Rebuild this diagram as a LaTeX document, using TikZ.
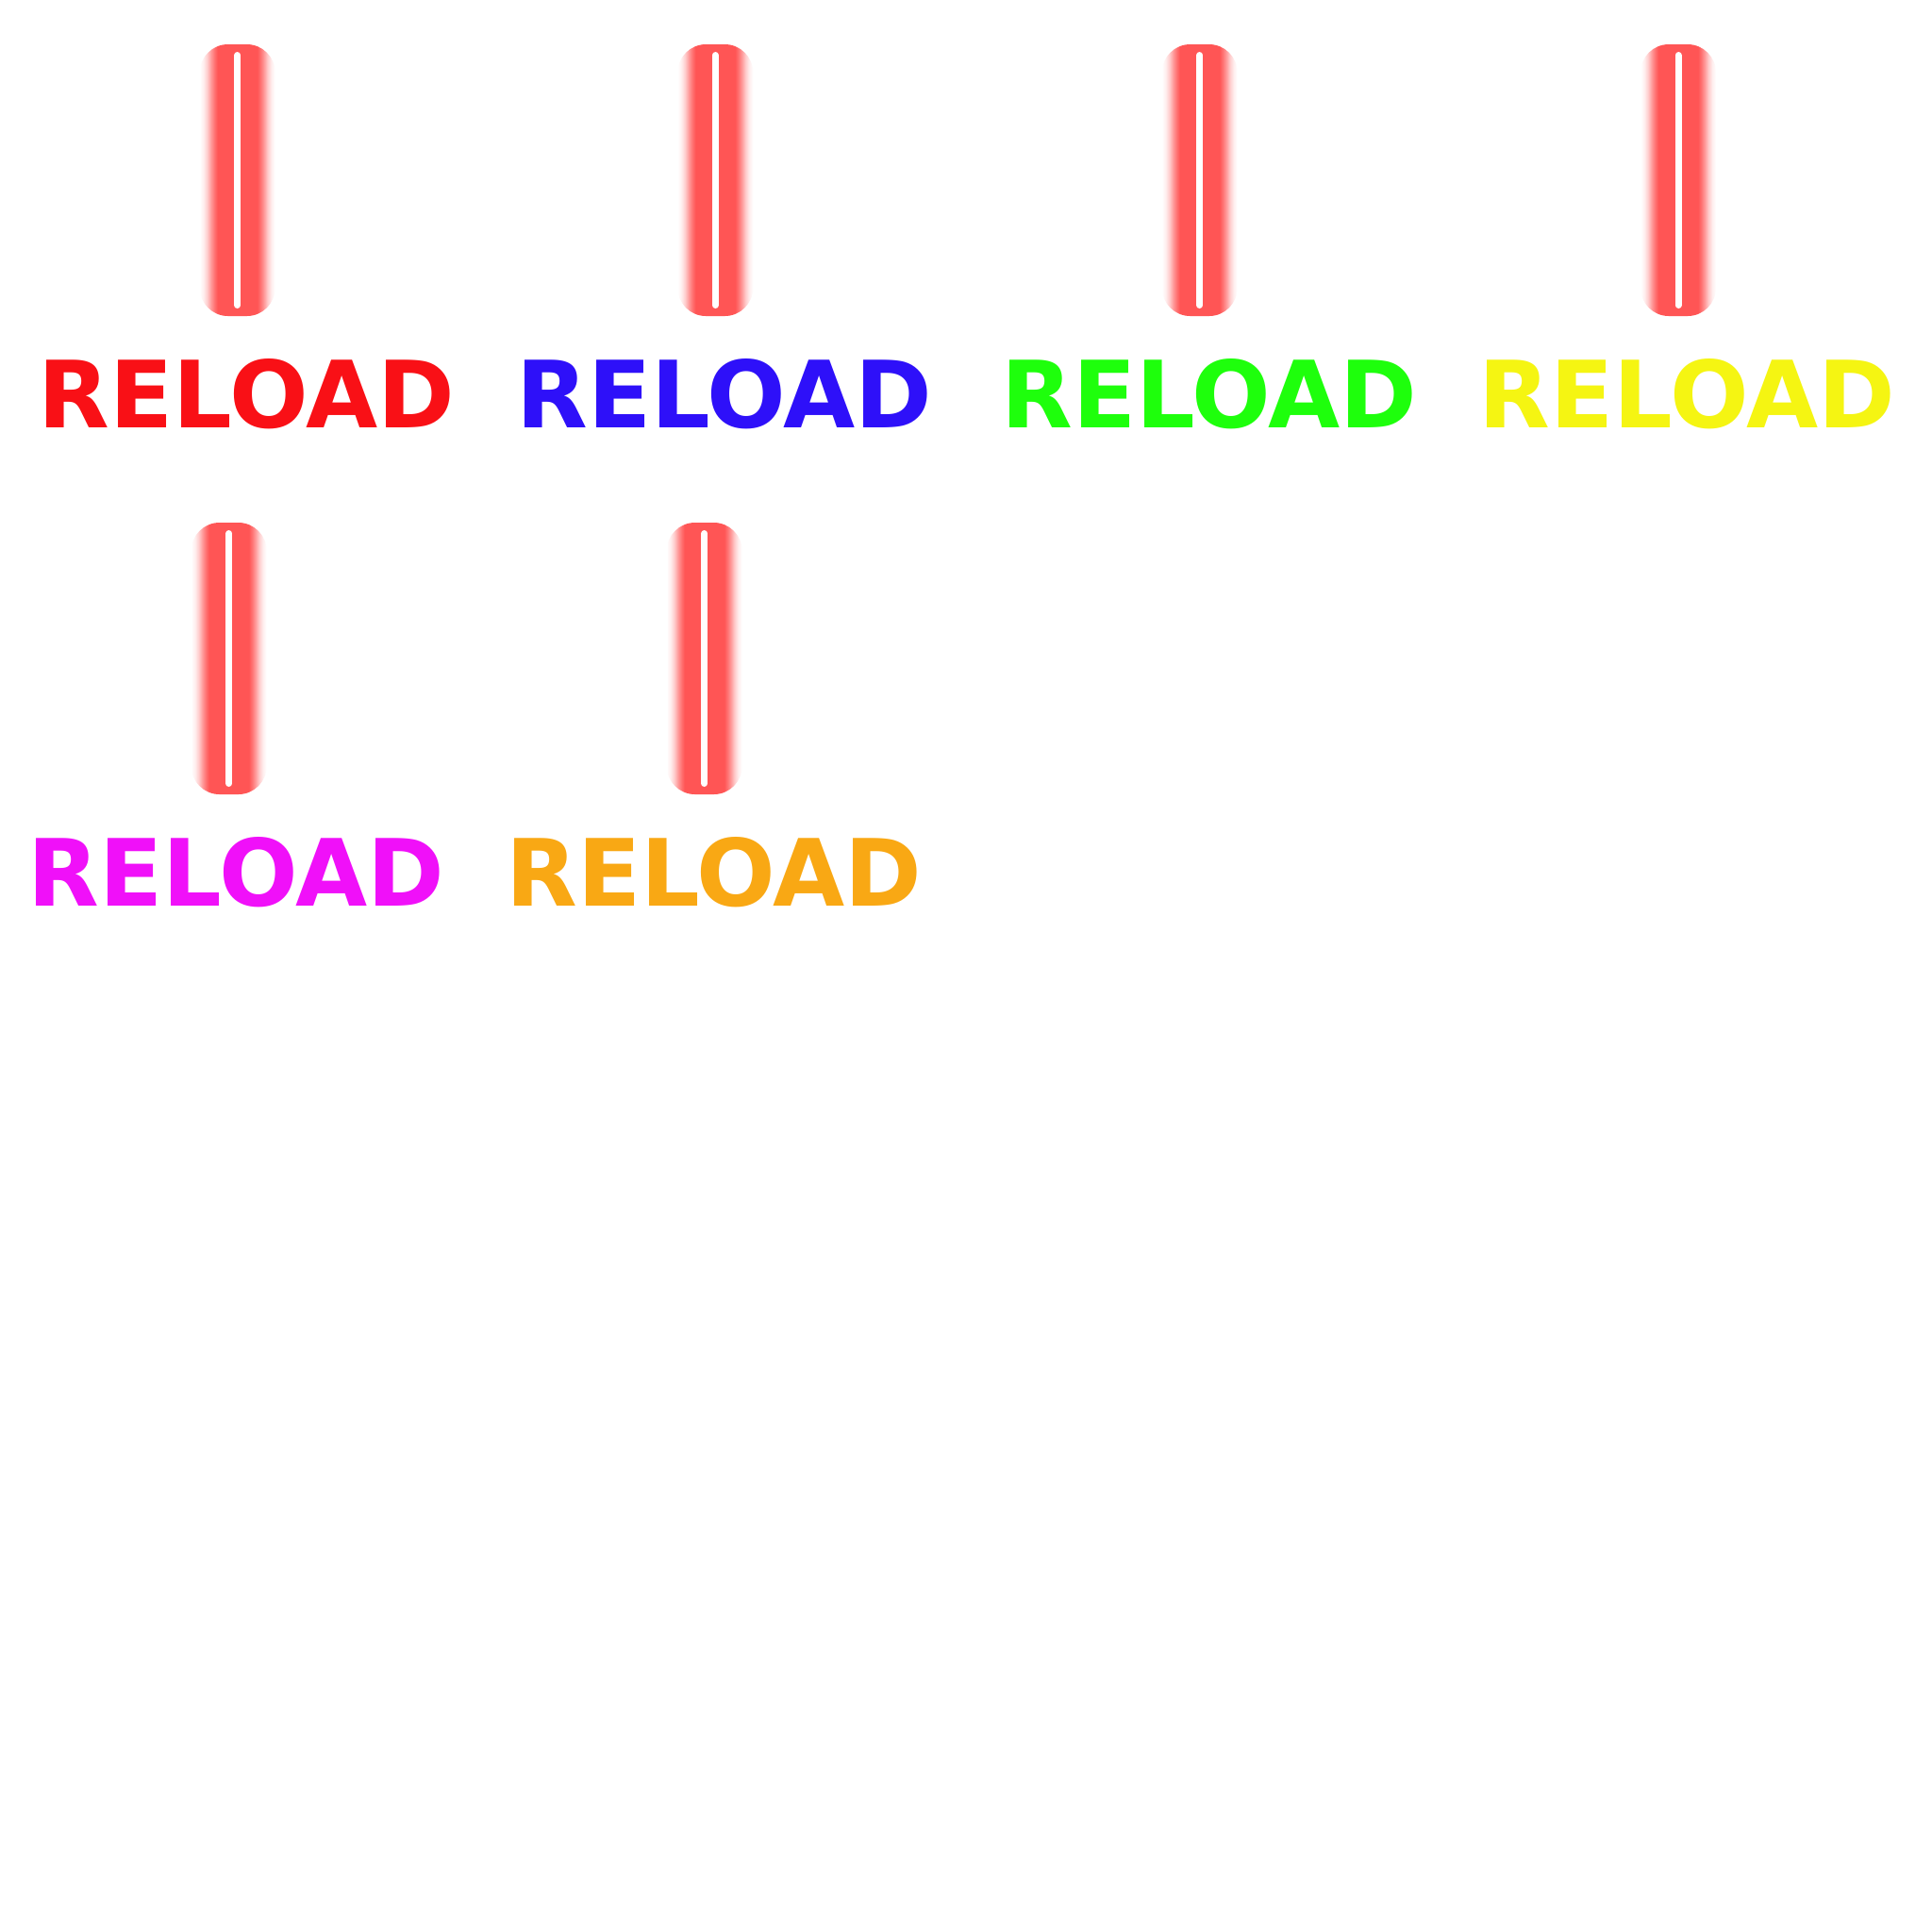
\documentclass[tikz,border=0pt]{standalone}
\usepackage{fontspec}
\setmainfont{DejaVu Sans}
\definecolor{barred}{HTML}{FF5555}
\definecolor{txtred}{HTML}{F91016}
\definecolor{txtblue}{HTML}{2E10F9}
\definecolor{txtgreen}{HTML}{1EFF0C}
\definecolor{txtyellow}{HTML}{F5F512}
\definecolor{txtmagenta}{HTML}{F010F9}
\definecolor{txtorange}{HTML}{F9A814}
\pgfdeclarehorizontalshading{barglow}{100bp}{color(0bp)=(white); color(25bp)=(white); color(27.5bp)=(barred!10); color(30bp)=(barred!30); color(32.5bp)=(barred!60); color(35bp)=(barred!85); color(36.9bp)=(barred); color(63.1bp)=(barred); color(65bp)=(barred!85); color(67.5bp)=(barred!60); color(70bp)=(barred!30); color(72.5bp)=(barred!10); color(75bp)=(white); color(100bp)=(white)}
\begin{document}
\begin{tikzpicture}[reloadtxt/.style={rectangle,inner sep=0pt,anchor=base,font=\fontsize{28pt}{33pt}\selectfont\bfseries},
	glowbar/.style={shading=barglow,rounded corners=0.3cm},
	barcore/.style={line width=0.7mm,color=white,line cap=round}]
	
	\fill[white] (0,0) rectangle (20.48,-20.48);
	\useasboundingbox (0,0) rectangle (20.48,-20.48);
	
	%bars first row
	\shade[glowbar] (2.117,-0.47) rectangle (2.917,-3.35);
	\draw[barcore] (2.517,-0.585) -- (2.517,-3.235);
	\shade[glowbar] (7.183,-0.47) rectangle (7.983,-3.35);
	\draw[barcore] (7.583,-0.585) -- (7.583,-3.235);
	\shade[glowbar] (12.317,-0.47) rectangle (13.117,-3.35);
	\draw[barcore] (12.717,-0.585) -- (12.717,-3.235);
	\shade[glowbar] (17.39,-0.47) rectangle (18.19,-3.35);
	\draw[barcore] (17.79,-0.585) -- (17.79,-3.235);
	%bars second row
	\shade[glowbar] (2.027,-5.54) rectangle (2.827,-8.42);
	\draw[barcore] (2.427,-5.655) -- (2.427,-8.305);
	\shade[glowbar] (7.067,-5.54) rectangle (7.867,-8.42);
	\draw[barcore] (7.467,-5.655) -- (7.467,-8.305);
	
	%labels
	\node[reloadtxt,color=txtred](lblred) at (2.614,-4.53) {RELOAD};
	\node[reloadtxt,color=txtblue](lblblue) at (7.68,-4.53) {RELOAD};
	\node[reloadtxt,color=txtgreen](lblgreen) at (12.82,-4.53) {RELOAD};
	\node[reloadtxt,color=txtyellow](lblyellow) at (17.885,-4.53) {RELOAD};
	\node[reloadtxt,color=txtmagenta](lblmagenta) at (2.505,-9.60) {RELOAD};
	\node[reloadtxt,color=txtorange](lblorange) at (7.57,-9.60) {RELOAD};
	\end{tikzpicture}
\end{document}
